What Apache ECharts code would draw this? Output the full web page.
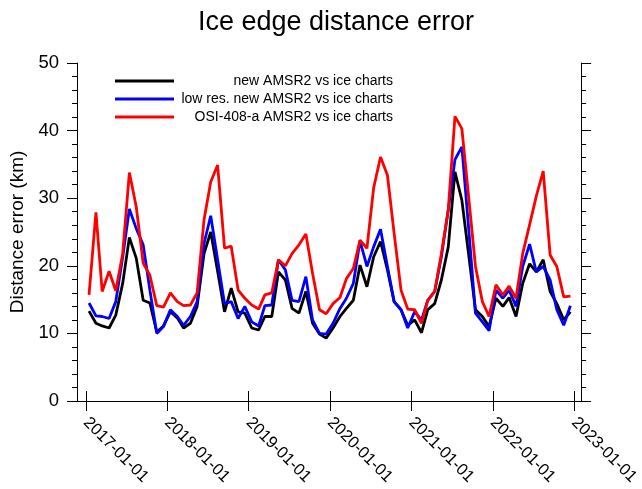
<!DOCTYPE html>
<html>
<head>
<meta charset="utf-8">
<script src="https://cdn.jsdelivr.net/npm/echarts@6/dist/echarts.min.js"></script>
<style>
  html, body { margin: 0; padding: 0; background: #fff; }
  #chart { width: 642px; height: 489px; }
</style>
</head>
<body>
<div id="chart"></div>
<script>
// monthly points, mid-month, Jan 2017 .. Dec 2022
var months = [];
for (var y = 2017; y <= 2022; y++) {
    for (var m = 1; m <= 12; m++) {
        months.push(y + '-' + (m < 10 ? '0' + m : m) + '-15');
    }
}
var yearTicks = ['2017-01-01', '2018-01-01', '2019-01-01', '2020-01-01', '2021-01-01', '2022-01-01', '2023-01-01'];

var seriesNames = ['new AMSR2 vs ice charts', 'low res. new AMSR2 vs ice charts', 'OSI-408-a AMSR2 vs ice charts'];

var newAmsr2 = [
    13.3, 11.5, 11.1, 10.8, 12.7, 17.4, 24.2, 21.1, 14.9, 14.5, 10.2, 11.1,
    13.2, 12.3, 10.8, 11.5, 14.0, 21.8, 25.0, 19.2, 13.2, 16.7, 13.2, 13.0,
    10.8, 10.5, 12.5, 12.5, 19.1, 17.9, 13.7, 13.0, 16.2, 11.5, 9.9, 9.3,
    10.8, 12.5, 13.7, 14.9, 20.1, 16.9, 21.3, 23.6, 19.4, 14.7, 13.5, 11.2,
    12.0, 10.1, 13.5, 14.4, 17.9, 22.8, 33.9, 29.7, 21.5, 13.5, 12.5, 11.0,
    15.2, 14.0, 15.3, 12.5, 17.4, 20.3, 19.1, 20.9, 16.2, 14.4, 12.0, 13.2
];
var lowResAmsr2 = [
    14.5, 12.6, 12.5, 12.2, 14.7, 21.3, 28.4, 25.5, 23.1, 16.4, 10.0, 11.0,
    13.5, 12.5, 11.2, 12.5, 14.7, 23.3, 27.4, 20.9, 14.4, 14.7, 12.2, 14.0,
    11.7, 11.1, 14.1, 14.2, 20.9, 19.4, 14.9, 14.7, 18.4, 12.0, 10.0, 9.9,
    11.5, 13.7, 15.2, 17.4, 23.7, 19.9, 22.8, 25.4, 19.9, 14.7, 13.5, 10.8,
    13.2, 12.0, 14.9, 16.2, 21.3, 28.3, 35.7, 37.6, 25.3, 13.0, 11.7, 10.4,
    16.4, 15.2, 16.4, 14.0, 19.9, 23.2, 19.1, 19.9, 17.9, 13.5, 11.2, 14.1
];
var osi408a = [
    15.7, 27.9, 16.2, 19.2, 16.3, 21.8, 33.8, 28.7, 20.4, 18.6, 14.1, 13.9,
    16.0, 14.7, 14.1, 14.2, 16.0, 26.8, 32.4, 34.9, 22.6, 22.9, 16.4, 15.2,
    14.2, 13.6, 15.7, 16.0, 20.9, 20.0, 21.8, 23.1, 24.7, 18.9, 13.5, 12.9,
    14.4, 15.3, 18.1, 19.6, 23.8, 22.6, 31.5, 36.1, 33.4, 24.8, 16.4, 13.6,
    13.5, 11.5, 14.9, 16.2, 21.8, 28.3, 42.1, 40.3, 30.0, 19.9, 14.7, 12.5,
    17.2, 15.7, 17.0, 15.2, 21.8, 26.1, 30.3, 34.0, 21.6, 19.9, 15.4, 15.5
];

function toMs(s) {
    var p = s.split('-');
    return Date.UTC(+p[0], +p[1] - 1, +p[2]);
}
function pad(n) { return n < 10 ? '0' + n : '' + n; }
function fmtDate(v) {
    var d = new Date(v);
    return d.getUTCFullYear() + '-' + pad(d.getUTCMonth() + 1) + '-' + pad(d.getUTCDate());
}
function pairs(vals) {
    return vals.map(function (v, i) { return [toMs(months[i]), v]; });
}

var myChart = echarts.init(document.getElementById('chart'), null, {renderer: 'canvas'});
var font = '"Liberation Sans", Arial, sans-serif';
var tickTimes = yearTicks.map(toMs);
var xMin = toMs('2016-11-22');
var xMax = toMs('2023-02-01');

function legendItem(name, top) {
    return {
        data: [name],
        left: 115,
        top: top,
        padding: 0,
        orient: 'vertical',
        icon: 'rect',
        itemWidth: 59,
        itemHeight: 3,
        formatter: function (n) { return '{a|' + n + '}'; },
        textStyle: {
            rich: {
                a: {width: 214, align: 'right', fontSize: 14, lineHeight: 16, color: '#000', fontFamily: font}
            }
        }
    };
}

var option = {
    backgroundColor: '#fff',
    animation: false,
    textStyle: {fontFamily: font},
    title: {
        text: 'Ice edge distance error',
        left: 331,
        textAlign: 'center',
        top: 4,
        textStyle: {fontSize: 27, fontWeight: 'normal', color: '#000', fontFamily: font}
    },
    legend: [
        legendItem(seriesNames[0], 74),
        legendItem(seriesNames[1], 92),
        legendItem(seriesNames[2], 110)
    ],
    grid: {left: 77, right: 57, top: 63, bottom: 88, containLabel: false},
    xAxis: [
        {
            type: 'value',
            position: 'bottom',
            min: xMin,
            max: xMax,
            axisLine: {lineStyle: {color: '#000', width: 1}},
            axisTick: {show: true, inside: false, length: 10, customValues: tickTimes, lineStyle: {color: '#000'}},
            axisLabel: {
                customValues: tickTimes,
                rotate: -45,
                margin: 19,
                fontSize: 16.5,
                color: '#000',
                fontFamily: font,
                formatter: fmtDate
            },
            splitLine: {show: false}
        },
        {
            type: 'value',
            position: 'top',
            min: xMin,
            max: xMax,
            axisLine: {lineStyle: {color: '#000', width: 1}},
            axisTick: {show: true, inside: false, length: 10, customValues: tickTimes, lineStyle: {color: '#000'}},
            axisLabel: {show: false},
            splitLine: {show: false}
        }
    ],
    yAxis: [
        {
            type: 'value',
            position: 'left',
            min: 0,
            max: 50,
            interval: 10,
            name: 'Distance error (km)',
            nameLocation: 'middle',
            nameGap: 50,
            nameTextStyle: {fontSize: 19, color: '#000', fontFamily: font},
            axisLine: {show: true, lineStyle: {color: '#000', width: 1}},
            axisTick: {show: true, inside: false, length: 10, lineStyle: {color: '#000'}},
            minorTick: {show: true, splitNumber: 5, length: 5, lineStyle: {color: '#000'}},
            axisLabel: {fontSize: 18.5, color: '#000', margin: 18, fontFamily: font},
            splitLine: {show: false}
        },
        {
            type: 'value',
            position: 'right',
            min: 0,
            max: 50,
            interval: 10,
            axisLine: {show: true, lineStyle: {color: '#000', width: 1}},
            axisTick: {show: true, inside: false, length: 10, lineStyle: {color: '#000'}},
            minorTick: {show: true, splitNumber: 5, length: 5, lineStyle: {color: '#000'}},
            axisLabel: {show: false},
            splitLine: {show: false}
        }
    ],
    series: [
        {
            name: seriesNames[0],
            type: 'line',
            data: pairs(newAmsr2),
            symbol: 'none',
            color: '#000000',
            lineStyle: {width: 2.8, color: '#000000'}
        },
        {
            name: seriesNames[1],
            type: 'line',
            data: pairs(lowResAmsr2),
            symbol: 'none',
            color: '#0000ff',
            lineStyle: {width: 2.8, color: '#0000ff'}
        },
        {
            name: seriesNames[2],
            type: 'line',
            data: pairs(osi408a),
            symbol: 'none',
            color: '#ff0000',
            lineStyle: {width: 2.8, color: '#ff0000'}
        }
    ]
};

option && myChart.setOption(option);
</script>
</body>
</html>
